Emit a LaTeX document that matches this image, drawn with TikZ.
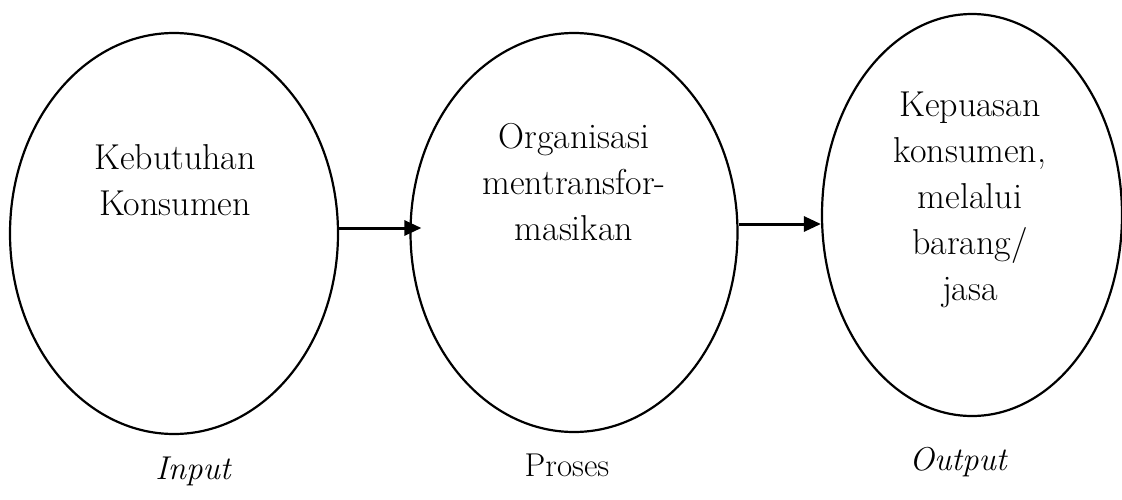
\documentclass[tikz,border=0pt]{standalone}
\usetikzlibrary{shapes.geometric,arrows.meta}
\begin{document}
\begin{tikzpicture}[x=1pt,y=-1pt,
  blob/.style={draw,ellipse,line width=2.2pt,inner sep=0pt},
  txt/.style={align=center,font=\fontsize{36}{46}\selectfont},
  lbl/.style={font=\fontsize{33}{40}\selectfont},
  arr/.style={line width=3pt,-{Triangle[length=17pt,width=15pt]}}]
\useasboundingbox (0,0) rectangle (1122,499);
\node[blob,minimum width=328pt,minimum height=401pt] (e1) at (174,233.5) {};
\node[blob,minimum width=327pt,minimum height=399pt] (e2) at (574,232.5) {};
\node[blob,minimum width=300pt,minimum height=402pt] (e3) at (972,215) {};
\node[txt] (t1) at (175,180) {Kebutuhan\\Konsumen};
\node[txt] (t2) at (574,182) {Organisasi\\mentransfor-\\masikan};
\node[txt] (t3) at (970,200) {Kepuasan\\konsumen,\\melalui\\barang/\\jasa};
\node[lbl] (l1) at (193,471) {\itshape Input};
\node[lbl] (l2) at (567,465) {Proses};
\node[lbl] (l3) at (958,462) {\itshape Output};
\draw[arr] ([yshift=5.5pt]e1.east) -- ([yshift=4.5pt,xshift=12pt]e2.west);
\draw[arr] ([yshift=8.5pt]e2.east) -- ([yshift=-9pt]e3.west);
\end{tikzpicture}
\end{document}
